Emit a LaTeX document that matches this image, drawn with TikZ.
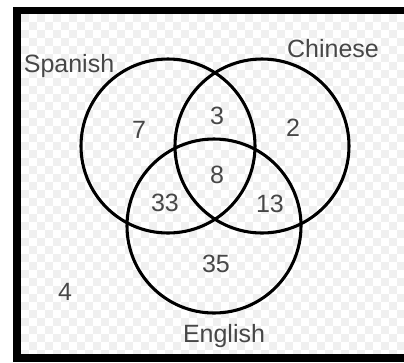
\documentclass[tikz,border=0pt]{standalone}
\usepackage{fontspec}
\setmainfont{Liberation Sans}
\definecolor{txt}{HTML}{474747}
\definecolor{chk}{HTML}{F0F0F0}
\begin{document}
\begin{tikzpicture}[x=0.75pt,y=-0.75pt,
  ring/.style={draw=black,line width=2.3pt},
  lbl/.style={text=txt,font=\fontsize{18.75}{20}\selectfont,inner sep=0pt}]
\useasboundingbox (0,0) rectangle (404,362);
\fill[white] (0,0) rectangle (404,362);
% checker background
\begin{scope}
\clip (21,14) rectangle (404,354);
\foreach \i in {0,...,47}{
  \foreach \j in {0,...,42}{
    \pgfmathtruncatemacro{\p}{mod(\i+\j,2)}
    \ifnum\p=0
      \fill[chk] (21+8*\i,14+8*\j) rectangle ++(8,8);
    \fi
  }
}
\end{scope}
% frame
\fill[black] (13,7) rectangle (404,14);
\fill[black] (13,7) rectangle (21,362);
\fill[black] (13,354) rectangle (404,362);
% circles
\node[ring,circle,minimum size=174*0.75pt,inner sep=0pt] (spa) at (168,146) {};
\node[ring,circle,minimum size=174*0.75pt,inner sep=0pt] (chi) at (262,146) {};
\node[ring,circle,minimum size=174*0.75pt,inner sep=0pt] (eng) at (214,226) {};
% labels
\node[lbl] (lspa) at (69,66) {Spanish};
\node[lbl] (lchi) at (333,49) {Chinese};
\node[lbl] (leng) at (224,336) {English};
% numbers
\node[lbl] (n7) at (139,130) {7};
\node[lbl] (n3) at (217,116) {3};
\node[lbl] (n2) at (293,128) {2};
\node[lbl] (n8) at (217,175) {8};
\node[lbl] (n33) at (165,203) {33};
\node[lbl] (n13) at (270,204) {13};
\node[lbl] (n35) at (216,264) {35};
\node[lbl] (n4) at (65,292) {4};
\end{tikzpicture}
\end{document}
